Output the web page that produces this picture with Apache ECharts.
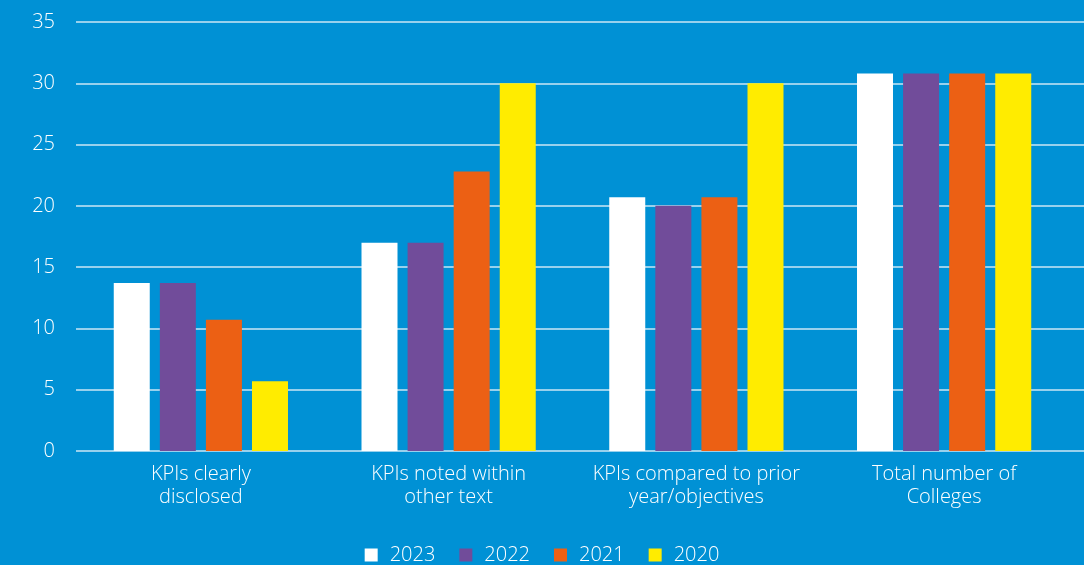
<!DOCTYPE html>
<html>
<head>
<meta charset="utf-8">
<script src="https://cdn.jsdelivr.net/npm/echarts@6/dist/echarts.min.js"></script>
<style>
  html, body { margin: 0; padding: 0; background: #0091d5; }
  #chart { width: 1084px; height: 565px; }
</style>
</head>
<body>
<div id="chart"></div>
<script>
// Categories and yearly counts
const categories = [
  'KPIs clearly\ndisclosed',
  'KPIs noted within\nother text',
  'KPIs compared to prior\nyear/objectives',
  'Total number of\nColleges'
];
const years = ['2023', '2022', '2021', '2020'];
const values2023 = [13.7, 17, 20.7, 30.8];
const values2022 = [13.7, 17, 20, 30.8];
const values2021 = [10.7, 22.8, 20.7, 30.8];
const values2020 = [5.7, 30, 30, 30.8];
const yTicks = { min: 0, max: 35, interval: 5 };

const colors = ['#ffffff', '#714c9a', '#ec6014', '#ffec00'];
const seriesData = [values2023, values2022, values2021, values2020];
const font = '"Open Sans", sans-serif';
const gridLine = 'rgba(225,240,250,0.9)';

const chart = echarts.init(document.getElementById('chart'));
chart.setOption({
  backgroundColor: '#0091d5',
  animation: false,
  color: colors,
  legend: {
    top: 540,
    left: 'center',
    itemWidth: 13,
    itemHeight: 13,
    itemGap: 24,
    icon: 'rect',
    textStyle: { color: '#ffffff', fontSize: 20, fontFamily: font, fontWeight: 300, padding: [0, 0, 0, 7] },
    data: years
  },
  grid: [
    { left: 77, right: 16, top: 22, bottom: 114, containLabel: false },
    { left: 76, right: 0, top: 22, bottom: 114, containLabel: false }
  ],
  xAxis: [
    {
      type: 'category',
      gridIndex: 0,
      data: categories,
      axisLine: { show: false },
      axisTick: { show: false },
      axisLabel: {
        color: '#ffffff', fontSize: 20, fontFamily: font, fontWeight: 300,
        lineHeight: 23, margin: 12, interval: 0
      }
    },
    {
      type: 'category',
      gridIndex: 1,
      data: categories,
      show: false
    }
  ],
  yAxis: [
    {
      type: 'value',
      gridIndex: 0,
      min: yTicks.min, max: yTicks.max, interval: yTicks.interval,
      axisLine: { show: false },
      axisTick: { show: false },
      splitLine: { show: false },
      axisLabel: { color: '#ffffff', fontSize: 20, fontFamily: font, fontWeight: 300, margin: 22 }
    },
    {
      type: 'value',
      gridIndex: 1,
      min: yTicks.min, max: yTicks.max, interval: yTicks.interval,
      axisLine: { show: false },
      axisTick: { show: false },
      axisLabel: { show: false },
      splitLine: { show: true, lineStyle: { color: gridLine, width: 1.5 } }
    }
  ],
  series: years.map((y, i) => ({
    name: y,
    type: 'bar',
    xAxisIndex: 0,
    yAxisIndex: 0,
    z: 5,
    data: seriesData[i],
    barWidth: 36,
    barGap: '28%',
    itemStyle: { color: colors[i] }
  }))
});
</script>
</body>
</html>
